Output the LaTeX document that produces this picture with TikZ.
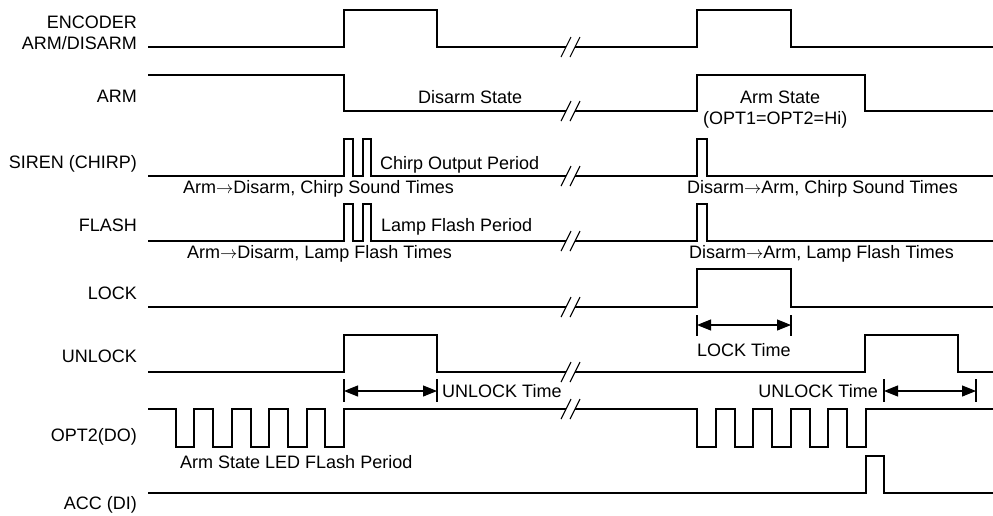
\documentclass[tikz,border=0pt]{standalone}
\usepackage{fontspec}
\setmainfont{Liberation Sans}
\usetikzlibrary{arrows.meta}
\begin{document}
\begin{tikzpicture}[x=1pt,y=-1pt,
  sig/.style={line width=1.4pt, line join=miter},
  lbl/.style={inner sep=0pt, font=\fontsize{18}{20}\selectfont, anchor=base east},
  txt/.style={inner sep=0pt, font=\fontsize{18}{20}\selectfont, anchor=base west},
  txtr/.style={inner sep=0pt, font=\fontsize{18}{20}\selectfont, anchor=base east},
  brk/.style={line width=1.1pt},
  tick/.style={line width=1.1pt},
  dim/.style={line width=1.1pt, {Triangle[length=14pt,width=11pt]}-{Triangle[length=14pt,width=11pt]}}
]
\useasboundingbox (0,0) rectangle (993,515);
% labels
\node[lbl] (lenc1) at (137,28.5) {ENCODER};
\node[lbl] (lenc2) at (137,49) {ARM/DISARM};
\node[lbl] (larm) at (137,102.5) {ARM};
\node[lbl] (lsir) at (137,168.5) {SIREN (CHIRP)};
\node[lbl] (lfla) at (137,231) {FLASH};
\node[lbl] (lloc) at (137,299) {LOCK};
\node[lbl] (lunl) at (137,362.5) {UNLOCK};
\node[lbl] (lopt) at (137,441) {OPT2(DO)};
\node[lbl] (lacc) at (137,509.5) {ACC (DI)};
% ENCODER
\draw[sig] (148,47) -- (344,47) -- (344,10) -- (437,10) -- (437,47) -- (566,47);
\draw[sig] (575,47) -- (697,47) -- (697,10) -- (791,10) -- (791,47) -- (993,47);
% ARM
\draw[sig] (148,75) -- (344,75) -- (344,111) -- (566,111);
\draw[sig] (575,111) -- (697,111) -- (697,75) -- (865,75) -- (865,111) -- (993,111);
% SIREN
\draw[sig] (148,176) -- (344,176) -- (344,139) -- (353,139) -- (353,176) -- (363,176) -- (363,139) -- (371,139) -- (371,176) -- (566,176);
\draw[sig] (575,176) -- (697,176) -- (697,139) -- (707,139) -- (707,176) -- (993,176);
% FLASH
\draw[sig] (148,241) -- (344,241) -- (344,204) -- (353,204) -- (353,241) -- (363,241) -- (363,204) -- (371,204) -- (371,241) -- (566,241);
\draw[sig] (575,241) -- (697,241) -- (697,204) -- (707,204) -- (707,241) -- (993,241);
% LOCK
\draw[sig] (148,307) -- (566,307);
\draw[sig] (575,307) -- (697,307) -- (697,269) -- (791,269) -- (791,307) -- (993,307);
% UNLOCK
\draw[sig] (148,372) -- (344,372) -- (344,335) -- (437,335) -- (437,372) -- (566,372);
\draw[sig] (575,372) -- (865,372) -- (865,335) -- (958,335) -- (958,372) -- (993,372);
% OPT2
\draw[sig] (148,409) -- (176,409) -- (176,447) -- (194,447) -- (194,409) -- (213,409) -- (213,447) -- (232,447) -- (232,409) -- (251,409) -- (251,447) -- (269,447) -- (269,409) -- (288,409) -- (288,447) -- (307,447) -- (307,409) -- (325,409) -- (325,447) -- (344,447) -- (344,409) -- (566,409);
\draw[sig] (575,409) -- (697,409) -- (697,447) -- (716,447) -- (716,409) -- (735,409) -- (735,447) -- (753,447) -- (753,409) -- (772,409) -- (772,447) -- (791,447) -- (791,409) -- (810,409) -- (810,447) -- (828,447) -- (828,409) -- (847,409) -- (847,447) -- (866,447) -- (866,409) -- (993,409);
% ACC
\draw[sig] (148,493) -- (866,493) -- (866,456) -- (884,456) -- (884,493) -- (993,493);
% break marks
\foreach \y in {47,111,176,241,307,372,409} {
  \draw[brk] (561,\y+10) -- (571,\y-10);
  \draw[brk] (570,\y+10) -- (580,\y-10);
}
% texts
\node[txt] (tdis) at (418,103) {Disarm State};
\node[txt] (tarm) at (740,103) {Arm State};
\node[txt] (topt) at (703,124) {(OPT1=OPT2=Hi)};
\node[txt] (tchp) at (380,169) {Chirp Output Period};
\node[txt] (tadc) at (183,193) {Arm$\rightarrow$Disarm, Chirp Sound Times};
\node[txt] (tdac) at (687,193) {Disarm$\rightarrow$Arm, Chirp Sound Times};
\node[txt] (tlfp) at (381,231) {Lamp Flash Period};
\node[txt] (tadl) at (187,258) {Arm$\rightarrow$Disarm, Lamp Flash Times};
\node[txt] (tdal) at (689,258) {Disarm$\rightarrow$Arm, Lamp Flash Times};
\node[txt] (tled) at (180,468) {Arm State LED FLash Period};
% LOCK time
\coordinate (la) at (697,325);
\coordinate (lb) at (791,325);
\draw[tick] (697,315) -- (697,336);
\draw[tick] (791,315) -- (791,336);
\draw[dim] (la) -- (lb);
\node[txt] (tlt) at (697,356) {LOCK Time};
% UNLOCK time 1
\coordinate (ua) at (344,391);
\coordinate (ub) at (437,391);
\draw[tick] (344,379) -- (344,402);
\draw[tick] (437,379) -- (437,402);
\draw[dim] (ua) -- (ub);
\node[txt] (tut1) at (442,397) {UNLOCK Time};
% UNLOCK time 2
\coordinate (uc) at (884,391);
\coordinate (ud) at (976,391);
\draw[tick] (884,379) -- (884,402);
\draw[tick] (976,379) -- (976,402);
\draw[dim] (uc) -- (ud);
\node[txtr] (tut2) at (878,397) {UNLOCK Time};
\end{tikzpicture}
\end{document}
